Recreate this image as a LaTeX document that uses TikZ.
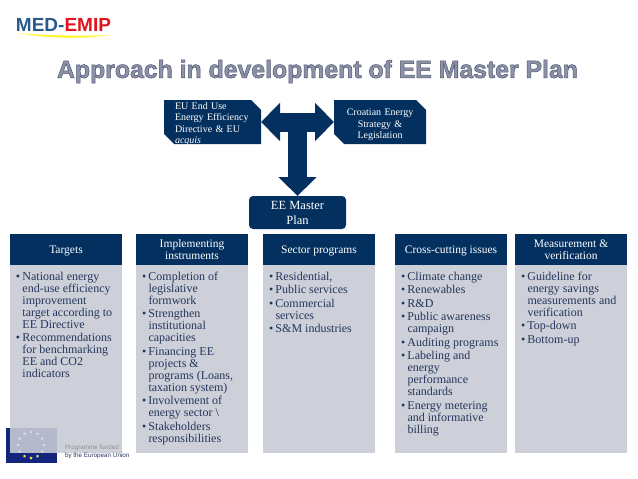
\documentclass[tikz,border=0pt]{standalone}
\usepackage{fontspec}
\setmainfont{Liberation Serif}
\newfontfamily\logofont{Liberation Sans}
\usetikzlibrary{positioning,arrows.meta,calc,shapes.misc,shapes.geometric}

\definecolor{navy}{HTML}{03305F}
\definecolor{panelgrey}{HTML}{CDD0D8}
\definecolor{inktext}{HTML}{24365C}
\definecolor{flagblue}{HTML}{14257E}
\definecolor{flagpale}{HTML}{B4B9CC}
\definecolor{titlegrey}{HTML}{8C92A8}
\definecolor{logoblue}{HTML}{2A5A8C}
\definecolor{logored}{HTML}{E0141E}

\newcommand{\itm}{\par\hangindent=6.5pt\hangafter=1\noindent\hbox to 6.5pt{\textbullet\hss}}
\newcommand{\listtext}[1]{\parbox[t][174pt][t]{100pt}{\fontsize{12}{12}\selectfont\parskip=1.5pt\raggedright\parindent=0pt #1}}
\newcommand{\outlinetext}[1]{\special{pdf:code 2 Tr 0.5 w 0.3 0.33 0.43 RG}#1\special{pdf:code 0 Tr}}

\begin{document}
\begin{tikzpicture}[
    x=1pt,
    y=-1pt,
    outer sep=0pt,
    headbox/.style={
        fill=navy,
        text=white,
        minimum width=112pt,
        minimum height=31pt,
        inner sep=1pt,
        align=center,
        font=\fontsize{11.5}{12.5}\selectfont,
        execute at begin node={\rule{0pt}{11pt}}
    },
    listbox/.style={
        fill=panelgrey,
        text=inktext,
        inner xsep=6pt,
        inner ysep=7pt,
        below=0pt of #1,
        anchor=north
    },
    sourcebox/.style={
        chamfered rectangle,
        chamfered rectangle corners={north east,south west},
        chamfered rectangle xsep=5pt,
        chamfered rectangle ysep=5pt,
        fill=navy,
        text=white,
        inner sep=0pt,
        minimum height=44pt,
        font=\fontsize{10}{11.3}\selectfont
    },
    bigarrow/.style={
        navy,
        line width=19pt,
        -{Triangle[length=19pt,width=37pt]}
    },
    eustar/.style={
        star,
        star points=5,
        star point ratio=2.4,
        fill=#1,
        inner sep=0pt,
        minimum size=3.5pt
    }
]
\useasboundingbox (0,0) rectangle (638,479);

%------------------------------------------------
% Logo and title
%------------------------------------------------

\fill[yellow!80!white] (18,33) .. controls (50,39) and (85,39) .. (110,35)
    .. controls (85,36) and (50,36) .. (18,33);
\node[anchor=west,inner sep=0pt,font=\logofont\bfseries\fontsize{19}{20}\selectfont] (logo)
    at (16,25) {\textcolor{logoblue}{MED-}\textcolor{logored}{EMIP}};

\node[inner sep=0pt,text=titlegrey,font=\logofont\bfseries\fontsize{24.8}{26}\selectfont] (title)
    at (317.5,71.5) {\outlinetext{Approach in development of EE Master Plan}};

%------------------------------------------------
% Sources and master plan
%------------------------------------------------

\node[sourcebox,inner ysep=-7pt,minimum width=97pt,text width=75pt,align=left] (eu) at (212.5,122)
    {\rule{0pt}{11pt}EU End Use\\Energy Efficiency\\Directive \& EU\\\textit{acquis}};

\node[sourcebox,inner ysep=-3pt,minimum width=92pt,text width=82pt,align=center] (croatia) at (380,122)
    {\rule{0pt}{12.5pt}Croatian Energy\\Strategy \&\\Legislation};

\node[fill=navy,text=white,rounded corners=4pt,minimum width=97pt,minimum height=33pt,
    inner sep=1pt,align=center,font=\fontsize{12.5}{15}\selectfont] (master) at (297.5,212.5)
    {EE Master\\Plan};

\coordinate (hub) at ($(eu.east)!.5!(croatia.west)$);

\draw[bigarrow,{Triangle[length=19pt,width=37pt]}-{Triangle[length=19pt,width=37pt]}]
    (eu.east) -- (croatia.west);
\draw[bigarrow] (hub) -- (master.north);

%------------------------------------------------
% Headers
%------------------------------------------------

\node[headbox] (targets) at (66,249.5) {Targets};
\node[headbox,right=14pt of targets] (instruments) {Implementing\\instruments};
\node[headbox,right=15pt of instruments] (sector) {Sector programs};
\node[headbox,right=20pt of sector] (crosscut) {Cross-cutting issues};
\node[headbox,right=8pt of crosscut] (measure) {Measurement \&\\verification};

%------------------------------------------------
% Lists
%------------------------------------------------

\node[listbox=targets] (targetslist) {\listtext{
\itm National energy\newline end-use efficiency\newline improvement\newline target according to\newline EE Directive
\itm Recommendations\newline for benchmarking\newline EE and CO2\newline indicators}};

\node[listbox=instruments] (instrumentslist) {\listtext{
\itm Completion of\newline legislative\newline formwork
\itm Strengthen\newline institutional\newline capacities
\itm Financing EE\newline projects \&\newline programs (Loans,\newline taxation system)
\itm Involvement of\newline energy sector \textbackslash
\itm Stakeholders\newline responsibilities}};

\node[listbox=sector] (sectorlist) {\listtext{
\itm Residential,
\itm Public services
\itm Commercial\newline services
\itm S\&M industries}};

\node[listbox=crosscut] (crosscutlist) {\listtext{
\itm Climate change
\itm Renewables
\itm R\&D
\itm Public awareness\newline campaign
\itm Auditing programs
\itm Labeling and\newline energy\newline performance\newline standards
\itm Energy metering\newline and informative\newline billing}};

\node[listbox=measure] (measurelist) {\listtext{
\itm Guideline for\newline energy savings\newline measurements and\newline verification
\itm Top-down
\itm Bottom-up}};

%------------------------------------------------
% Flag
%------------------------------------------------

\fill[flagblue] (6,453) rectangle (57,463);
\fill[flagblue] (6,428) rectangle (10,453);
\fill[flagpale] (10,428) rectangle (57,453);

\foreach \a in {-30,-150,30,60,90,120,150,0,180}
\node[eustar=panelgrey!70!white] at ($(31,445)+(\a:13pt)$) {};
\foreach \a in {-60,-90,-120}
\node[eustar=yellow!70!white] at ($(31,445)+(\a:13pt)$) {};

\node[anchor=west,inner sep=0pt,text=panelgrey!70!black,font=\logofont\fontsize{6.3}{7}\selectfont] (funded)
    at (65,448) {Programme funded};
\node[anchor=west,inner sep=0pt,text=inktext,font=\logofont\fontsize{6.3}{7}\selectfont] (union)
    at (65,456) {by the European Union};

\end{tikzpicture}
\end{document}
